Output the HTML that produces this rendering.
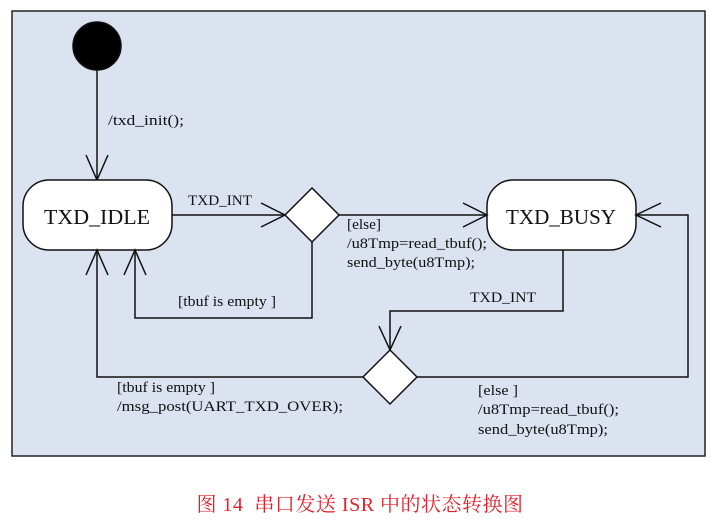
<!DOCTYPE html>
<html><head><meta charset="utf-8"><style>
html,body{margin:0;padding:0;background:#fff;width:720px;height:524px;overflow:hidden}
svg text{font-family:"Liberation Serif",serif;fill:#111}
.cap{position:absolute;left:0;top:488px;width:720px;text-align:center;color:#e0202a;font:20px "Liberation Serif","Noto Serif CJK SC",serif;letter-spacing:0.5px}
</style></head><body>
<svg width="720" height="524" style="position:absolute;left:0;top:0" xmlns="http://www.w3.org/2000/svg">
<rect x="12" y="11" width="693" height="445" fill="#dbe3f0" stroke="#222" stroke-width="1.5"/>
<g stroke="#111" stroke-width="1.5" fill="none">
<circle cx="97" cy="46" r="24" fill="#000"/>
<line x1="97" y1="70" x2="97" y2="180"/>
<polyline points="86,155 97,180 108,155"/>
<rect x="23" y="180" width="149" height="70" rx="26" fill="#fff"/>
<rect x="487" y="180" width="149" height="70" rx="26" fill="#fff"/>
<line x1="172" y1="215" x2="285" y2="215"/>
<polyline points="261,203 285,215 261,227"/>
<polygon points="312,188 339,215 312,242 285,215" fill="#fff"/>
<line x1="339" y1="215" x2="487" y2="215"/>
<polyline points="463,203 487,215 463,227"/>
<polyline points="312,242 312,318 135,318 135,250"/>
<polyline points="124,275 135,250 146,275"/>
<polyline points="563,250 563,311 390,311 390,350"/>
<polyline points="379,326 390,350 401,326"/>
<polygon points="390,350 417,377 390,404 363,377" fill="#fff"/>
<polyline points="417,377 688,377 688,215 636,215"/>
<polyline points="661,203 636,215 661,227"/>
<polyline points="363,377 97,377 97,250"/>
<polyline points="86,275 97,250 108,275"/>
</g>
<g font-size="15">
<text x="108" y="125" textLength="76" lengthAdjust="spacingAndGlyphs">/txd_init();</text>
<text x="188" y="205" textLength="64" lengthAdjust="spacingAndGlyphs">TXD_INT</text>
<text x="347" y="229" textLength="34" lengthAdjust="spacingAndGlyphs">[else]</text>
<text x="347" y="248" textLength="140" lengthAdjust="spacingAndGlyphs">/u8Tmp=read_tbuf();</text>
<text x="347" y="267" textLength="128" lengthAdjust="spacingAndGlyphs">send_byte(u8Tmp);</text>
<text x="470" y="302" textLength="66" lengthAdjust="spacingAndGlyphs">TXD_INT</text>
<text x="178" y="306" textLength="98" lengthAdjust="spacingAndGlyphs">[tbuf is empty ]</text>
<text x="117" y="392" textLength="98" lengthAdjust="spacingAndGlyphs">[tbuf is empty ]</text>
<text x="117" y="411" textLength="226" lengthAdjust="spacingAndGlyphs">/msg_post(UART_TXD_OVER);</text>
<text x="478" y="395" textLength="40" lengthAdjust="spacingAndGlyphs">[else ]</text>
<text x="478" y="414" textLength="141" lengthAdjust="spacingAndGlyphs">/u8Tmp=read_tbuf();</text>
<text x="478" y="434" textLength="130" lengthAdjust="spacingAndGlyphs">send_byte(u8Tmp);</text>
</g>
<text x="44" y="224" font-size="21" textLength="106" lengthAdjust="spacingAndGlyphs">TXD_IDLE</text>
<text x="506" y="224" font-size="21" textLength="110" lengthAdjust="spacingAndGlyphs">TXD_BUSY</text>
</svg>
<div class="cap">图 14&nbsp; 串口发送 ISR 中的状态转换图</div>
</body></html>
